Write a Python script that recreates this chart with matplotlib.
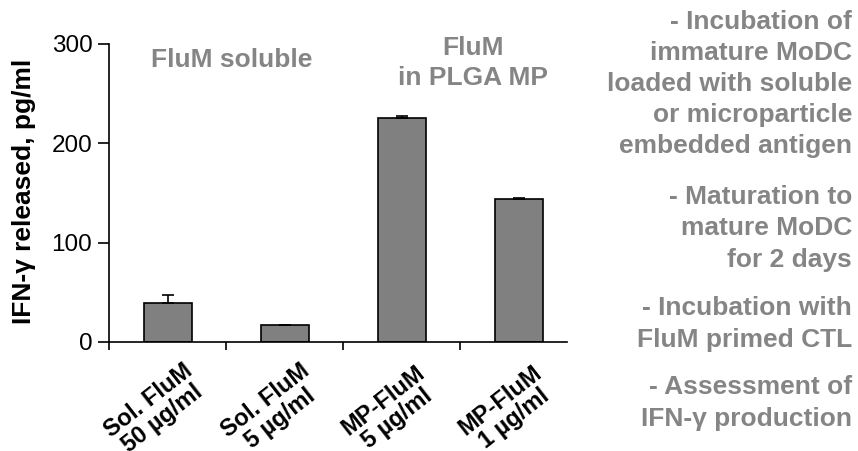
import matplotlib.pyplot as plt
import matplotlib.transforms as mtransforms
import numpy as np

plt.rcParams['font.family'] = ['Liberation Sans', 'DejaVu Sans']

categories = ["Sol. FluM\n50 µg/ml", "Sol. FluM\n5 µg/ml", "MP-FluM\n5 µg/ml", "MP-FluM\n1 µg/ml"]
values = [39, 17, 226, 144]
errors = [8, 0.5, 1.5, 0.7]
y_ticks = [0, 100, 200, 300]

steps = [
    "- Incubation of\nimmature MoDC\nloaded with soluble\nor microparticle\nembedded antigen",
    "- Maturation to\nmature MoDC\nfor 2 days",
    "- Incubation with\nFluM primed CTL",
    "- Assessment of\nIFN-γ production",
]

grey = "#808080"
text_grey = "#858585"
W, H = 858, 451

fig = plt.figure(figsize=(8.58, 4.51), dpi=100)
ax = fig.add_axes([109 / W, 1 - 342 / H, (567 - 109) / W, (342 - 44) / H])

x = np.arange(len(values))
ax.bar(x, values, width=0.41, color=grey, edgecolor="black", linewidth=1.2, zorder=2)
ax.errorbar(x, values, yerr=[np.zeros(len(errors)), errors], fmt="none",
            ecolor="black", elinewidth=1.2, capsize=4, capthick=1.2, zorder=3)

ax.set_xlim(-0.5, 3.41)
ax.set_ylim(0, 300)
ax.spines["top"].set_visible(False)
ax.spines["right"].set_visible(False)
ax.spines["left"].set_linewidth(1.2)
ax.spines["bottom"].set_linewidth(1.2)

ax.set_yticks(y_ticks)
ax.set_yticklabels([str(t) for t in y_ticks], fontsize=17.5)
ax.tick_params(axis="y", direction="out", length=8, width=1.2, pad=4)
ax.set_xticks([-0.5, 0.5, 1.5, 2.5])
ax.set_xticklabels([])
ax.tick_params(axis="x", direction="out", length=6, width=1.2)

fig.text(24 / W, 1 - 191 / H, "IFN-γ released, pg/ml", rotation=90, fontsize=19,
         fontweight="bold", ha="center", va="center")

# category labels, rotated (bottom line runs off the figure as in the original)
offset = mtransforms.ScaledTranslation(-12 / 100, -68 / 100, fig.dpi_scale_trans)
for xi, lab in zip(x, categories):
    ax.text(xi, 0, lab, transform=ax.transData + offset, rotation=38,
            ha="center", va="center", multialignment="center",
            fontsize=17, fontweight="bold", linespacing=1.0)

# group labels
fig.text(232 / W, 1 - 60 / H, "FluM soluble", fontsize=19, fontweight="bold",
         color=text_grey, ha="center", va="center")
fig.text(473 / W, 1 - 63 / H, "FluM\nin PLGA MP", fontsize=19, fontweight="bold",
         color=text_grey, ha="center", va="center", linespacing=1.3)

# protocol steps on the right
centers = [84, 228.5, 324, 403]
for c, s in zip(centers, steps):
    fig.text(852 / W, 1 - c / H, s, fontsize=19, fontweight="bold",
             color=text_grey, ha="right", va="center", linespacing=1.37)

fig.savefig("out.png", dpi=100)
